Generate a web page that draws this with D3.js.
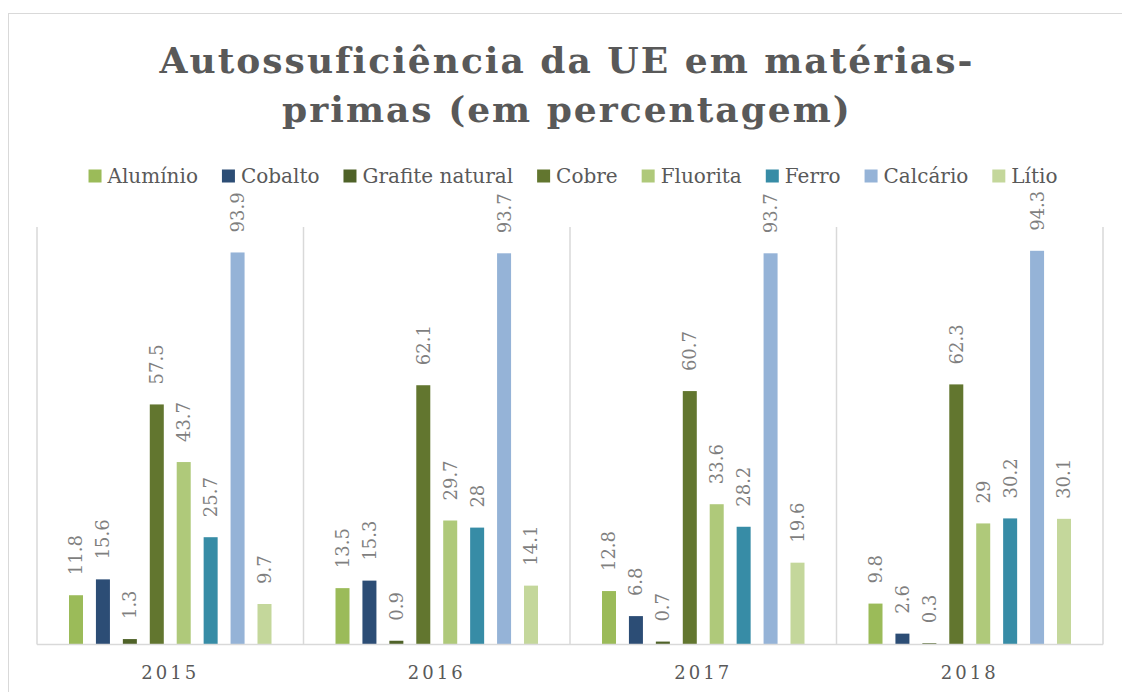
<!DOCTYPE html>
<html>
<head>
<meta charset="utf-8">
<script src="https://cdn.jsdelivr.net/npm/d3@7"></script>
<style>
  body { margin: 0; background: #fff; }
  text { font-family: "DejaVu Serif", serif; }
</style>
</head>
<body>
<div id="chart"></div>
<script>
// chart data
var years = ["2015", "2016", "2017", "2018"];
var materials = ["Alumínio", "Cobalto", "Grafite natural", "Cobre", "Fluorita", "Ferro", "Calcário", "Lítio"];
var colors = ["#9bbb59", "#2c4d75", "#4f6228", "#62762f", "#afc97a", "#378ca6", "#95b3d7", "#c4d79b"];

var aluminio = [11.8, 13.5, 12.8, 9.8];
var cobalto = [15.6, 15.3, 6.8, 2.6];
var grafite = [1.3, 0.9, 0.7, 0.3];
var cobre = [57.5, 62.1, 60.7, 62.3];
var fluorita = [43.7, 29.7, 33.6, 29];
var ferro = [25.7, 28, 28.2, 30.2];
var calcario = [93.9, 93.7, 93.7, 94.3];
var litio = [9.7, 14.1, 19.6, 30.1];

var seriesValues = [aluminio, cobalto, grafite, cobre, fluorita, ferro, calcario, litio];
var titleLines = ["Autossuficiência da UE em matérias-", "primas (em percentagem)"];

var svgWidth = 1122;
var svgHeight = 692;

var plot = { left: 37, right: 1103, top: 227, bottom: 644.5 };

var svg = d3.select("#chart")
  .append("svg")
  .attr("width", svgWidth)
  .attr("height", svgHeight);

// outer chart border (right and bottom edges fall outside the picture)
svg.append("rect")
  .attr("x", 8.5)
  .attr("y", 13.5)
  .attr("width", 1125)
  .attr("height", 690)
  .attr("fill", "none")
  .attr("stroke", "#d9d9d9")
  .attr("stroke-width", 1);

// title
var title = svg.append("text")
  .attr("text-anchor", "middle")
  .style("font-size", "36px")
  .style("font-weight", "bold")
  .style("fill", "#595959")
  .style("letter-spacing", "2px");

title.selectAll("tspan")
  .data(titleLines)
  .enter()
  .append("tspan")
  .attr("x", 567)
  .attr("y", (d, i) => 73 + i * 49)
  .text(d => d);

// scales
var x0 = d3.scaleBand()
  .domain(years)
  .range([plot.left, plot.right]);

var x1 = d3.scaleBand()
  .domain(materials)
  .range([32, x0.bandwidth() - 32])
  .paddingInner(0.48);

var y = d3.scaleLinear()
  .domain([0, 100])
  .range([plot.bottom, plot.top]);

// vertical gridlines at category edges
var edges = years.map(d => x0(d)).concat([plot.right]);
svg.append("g")
  .selectAll("line")
  .data(edges)
  .enter()
  .append("line")
  .attr("x1", d => d)
  .attr("x2", d => d)
  .attr("y1", plot.top)
  .attr("y2", plot.bottom)
  .attr("stroke", "#d9d9d9")
  .attr("stroke-width", 1.5);

// bars
var groups = svg.append("g")
  .selectAll("g")
  .data(years)
  .enter()
  .append("g")
  .attr("transform", d => `translate(${x0(d)}, 0)`);

var cells = groups.selectAll("g")
  .data((year, yi) => materials.map((m, mi) => ({ material: m, index: mi, value: seriesValues[mi][yi] })))
  .enter()
  .append("g");

cells.append("rect")
  .attr("x", d => x1(d.material))
  .attr("y", d => y(d.value))
  .attr("width", x1.bandwidth())
  .attr("height", d => y(0) - y(d.value))
  .attr("fill", d => colors[d.index]);

// rotated data labels
cells.append("text")
  .attr("transform", d => `translate(${x1(d.material) + x1.bandwidth() / 2}, ${y(d.value) - 20}) rotate(-90)`)
  .attr("dy", "0.36em")
  .style("font-size", "18px")
  .style("fill", "#7f7f7f")
  .text(d => d.value);

// baseline
svg.append("line")
  .attr("x1", plot.left)
  .attr("x2", plot.right)
  .attr("y1", plot.bottom)
  .attr("y2", plot.bottom)
  .attr("stroke", "#d9d9d9")
  .attr("stroke-width", 1.5);

// category labels
var xAxis = svg.append("g")
  .attr("transform", `translate(0, ${plot.bottom})`)
  .call(d3.axisBottom(x0).tickSize(0).tickPadding(0));

xAxis.select(".domain").remove();
xAxis.selectAll("text")
  .attr("dy", null)
  .attr("y", 34)
  .style("font-family", "DejaVu Serif, serif")
  .style("font-size", "18px")
  .style("letter-spacing", "3px")
  .style("fill", "#595959");

// legend
var legend = svg.append("g");
var legendX = 0;
materials.forEach(function (m, i) {
  var item = legend.append("g").attr("transform", `translate(${legendX}, 0)`);
  item.append("rect")
    .attr("x", 0)
    .attr("y", 169.5)
    .attr("width", 13)
    .attr("height", 13)
    .attr("fill", colors[i]);
  var label = item.append("text")
    .attr("x", 19)
    .attr("y", 183)
    .style("font-size", "20px")
    .style("fill", "#595959")
    .text(m);
  legendX += 19 + label.node().getComputedTextLength() + 24;
});
var legendWidth = legendX - 24;
legend.attr("transform", `translate(${573 - legendWidth / 2}, 0)`);
</script>
</body>
</html>
